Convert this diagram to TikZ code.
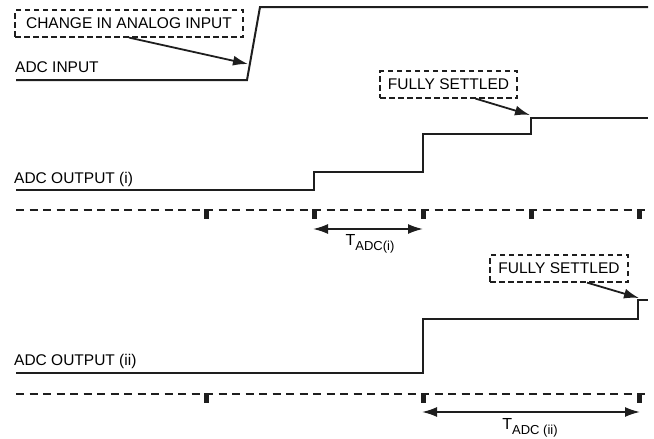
\documentclass[tikz,border=0pt]{standalone}
\usepackage{fontspec}
\setmainfont{Liberation Sans}
\usepackage{xcolor}
\usepackage{tikz}
\usetikzlibrary{arrows.meta, positioning, calc}
\definecolor{signalblack}{RGB}{30, 30, 30}

\tikzset{
    sig/.style={draw=signalblack, line width=2pt, line join=miter},
    clkline/.style={draw=signalblack, line width=2.6pt, dash pattern=on 8pt off 5.5pt},
    notebox/.style={draw=signalblack, line width=1.2pt, dash pattern=on 5.5pt off 3.5pt,
        minimum height=27pt, inner sep=0pt, font=\fontsize{15.5}{18}\selectfont},
    pointer/.style={draw=signalblack, line width=1.8pt, -{Latex[length=15pt,width=10pt]}},
    span/.style={draw=signalblack, line width=1.8pt, {Latex[length=15pt,width=10pt]}-{Latex[length=15pt,width=10pt]}},
    siglabel/.style={anchor=base west, inner sep=0pt, font=\fontsize{15.5}{18}\selectfont},
}
\newcommand{\tadc}[1]{T\raisebox{-0.55ex}{\fontsize{13}{13}\selectfont ADC#1}}

\begin{document}
\begin{tikzpicture}[x=1pt, y=-1pt]
        \useasboundingbox (0,0) rectangle (654,439);

        % ADC input
        \draw[sig] (16,80) -- (247,80) -- (260,7) -- (648,7);
        \node[siglabel] (inlabel) at (15,72) {ADC INPUT};
        \node[notebox, minimum width=228pt] (chgbox) at (129,23.5) {CHANGE IN ANALOG INPUT};
        \coordinate (inrise) at (248,64);
        \draw[pointer] (chgbox.south) -- (inrise);

        % ADC output (i)
        \draw[sig] (16,190) -- (314,190) -- (314,172) -- (423,172) -- (423,134)
              -- (531,134) -- (531,118) -- (648,118);
        \node[siglabel] (outilabel) at (14,183) {ADC OUTPUT (i)};
        \node[notebox, minimum width=137pt] (settlei) at (448.5,84.5) {FULLY SETTLED};
        \coordinate (settleistep) at (530,115);
        \draw[pointer] ([xshift=27pt]settlei.south) -- (settleistep);

        % conversion clock (i)
        \draw[clkline] (16,210) -- (650,210);
        \foreach \x in {206,314,423,531,639}
            \fill[signalblack] (\x-2.5,209) rectangle (\x+2.5,219);
        \coordinate (ti-a) at (313,229);
        \coordinate (ti-b) at (423,229);
        \draw[span] (ti-a) -- (ti-b);
        \node (tilabel) at (370,244) {\fontsize{16}{18}\selectfont\tadc{(i)}};

        % ADC output (ii)
        \draw[sig] (16,373) -- (423,373) -- (423,319) -- (638,319) -- (638,300) -- (648,300);
        \node[siglabel] (outiilabel) at (14,365) {ADC OUTPUT (ii)};
        \node[notebox, minimum width=138pt] (settleii) at (559,268.5) {FULLY SETTLED};
        \coordinate (settleiistep) at (639,298);
        \draw[pointer] ([xshift=28pt]settleii.south) -- (settleiistep);

        % conversion clock (ii)
        \draw[clkline] (16,394) -- (650,394);
        \foreach \x in {206,423,639}
            \fill[signalblack] (\x-2.5,393) rectangle (\x+2.5,403);
        \coordinate (tii-a) at (422,412);
        \coordinate (tii-b) at (640,412);
        \draw[span] (tii-a) -- (tii-b);
        \node (tiilabel) at (530,428) {\fontsize{16}{18}\selectfont\tadc{ (ii)}};
    \end{tikzpicture}
\end{document}
